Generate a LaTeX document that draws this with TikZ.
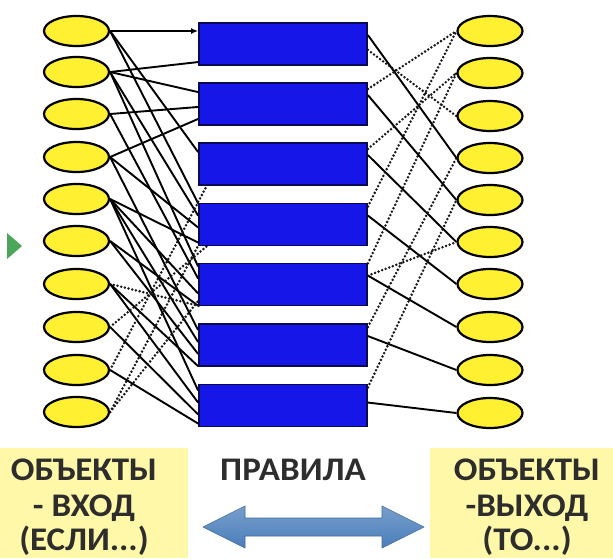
\documentclass[tikz,border=0pt]{standalone}
\usepackage{fontspec}
\newfontfamily\labfont{Carlito}[FakeStretch=1.06]
\usetikzlibrary{arrows.meta,shapes.geometric,backgrounds}
\definecolor{ellfill}{RGB}{255,240,50}
\definecolor{rectfill}{RGB}{22,22,232}
\definecolor{rectborder}{RGB}{10,10,80}
\definecolor{labelbg}{RGB}{255,248,168}
\definecolor{labtext}{RGB}{45,45,45}
\definecolor{arrowblue}{RGB}{74,126,187}
\definecolor{arrowgreen}{RGB}{76,166,90}
\tikzset{
  obj/.style={ellipse, draw=black, line width=2.2pt, fill=ellfill, minimum width=65pt, minimum height=30pt, inner sep=0pt},
  rule/.style={rectangle, draw=rectborder, line width=1.8pt, fill=rectfill, minimum width=168pt, minimum height=42pt, inner sep=0pt},
  link/.style={draw=black, line width=1.9pt},
  dlink/.style={draw=black!90, line width=2.8pt, line cap=round, dash pattern=on 0pt off 3.8pt},
  labtxt/.style={text=labtext, font=\labfont\bfseries\fontsize{33}{38}\selectfont, inner sep=0pt, anchor=base},
  labelbox/.style={fill=labelbg, inner sep=0pt},
}
\begin{document}
\begin{tikzpicture}[x=1pt,y=-1pt]
\useasboundingbox (0,0) rectangle (613,558);

% green marker at left
\fill[arrowgreen] (7,233) -- (22,246) -- (7,259) -- cycle;

% label boxes
\node[labelbox, minimum width=188pt, minimum height=110pt] (inlab) at (94,503) {};
\node[labtxt] (in1) at (84,480) {ОБЪЕКТЫ};
\node[labtxt] (in2) at (84,516) {- ВХОД};
\node[labtxt] (in3) at (84,550) {(ЕСЛИ...)};
\node[labelbox, minimum width=183pt, minimum height=110pt] (outlab) at (521.5,503) {};
\node[labtxt] (out1) at (527,480) {ОБЪЕКТЫ};
\node[labtxt] (out2) at (527,516) {-ВЫХОД};
\node[labtxt] (out3) at (527,550) {(ТО...)};
\node[labtxt] (rules) at (293,480) {ПРАВИЛА};

% double arrow
\shadedraw[top color=arrowblue!75!white, bottom color=arrowblue, draw=arrowblue!85!black, line width=0.6pt]
  (203,527) -- (245,506) -- (245,518) -- (382,518) -- (382,506) -- (424,527)
  -- (382,548) -- (382,536) -- (245,536) -- (245,548) -- cycle;

% nodes
\foreach \i/\y in {1/31,2/72,3/114,4/157,5/199,6/241,7/284,8/327,9/370,10/412}
  \node[obj] (L\i) at (76.5,\y) {};
\foreach \i/\y in {1/31,2/73,3/116,4/158,5/200,6/242,7/284,8/327,9/370,10/413}
  \node[obj] (O\i) at (490,\y) {};
\foreach \j/\y in {1/44,2/104,3/164,4/224.5,5/284.5,6/345,7/405.5}
  \node[rule] (R\j) at (283,\y) {};

\begin{scope}[on background layer]
\fill[white] (0,0) rectangle (613,558);
% left connectors (solid)
\draw[link, -{Latex[length=7pt,width=6pt]}] (L1.east) -- (R1.west |- L1.east);
\foreach \s/\t/\a in {1/3/172,1/4/166,2/1/192,2/2/172,2/4/174,2/5/168,3/2/182,3/5/176,
  4/2/190,4/4/182,4/6/170,5/4/192,5/5/186,5/6/178,5/7/170,6/5/194,6/6/186,
  7/6/194,7/7/178,8/7/186,9/7/192}
  \draw[link] (L\s.east) -- (R\t.\a);
% left connectors (dotted)
\foreach \s/\t/\a in {7/5/195,8/4/196,9/3/196,10/4/194,10/5/191}
  \draw[dlink] (L\s.east) -- (R\t.\a);
% right connectors (solid)
\foreach \t/\s/\a in {1/4/6,2/5/6,3/6/6,4/7/6,5/8/6,6/9/6,7/10/2}
  \draw[link] (R\t.\a) -- (O\s.west);
% right connectors (dotted)
\foreach \t/\s/\a in {1/3/-4,2/1/10,4/1/12,3/2/10,6/4/12,7/5/12,5/6/6,5/2/14}
  \draw[dlink] (R\t.\a) -- (O\s.west);
\end{scope}
\end{tikzpicture}
\end{document}
